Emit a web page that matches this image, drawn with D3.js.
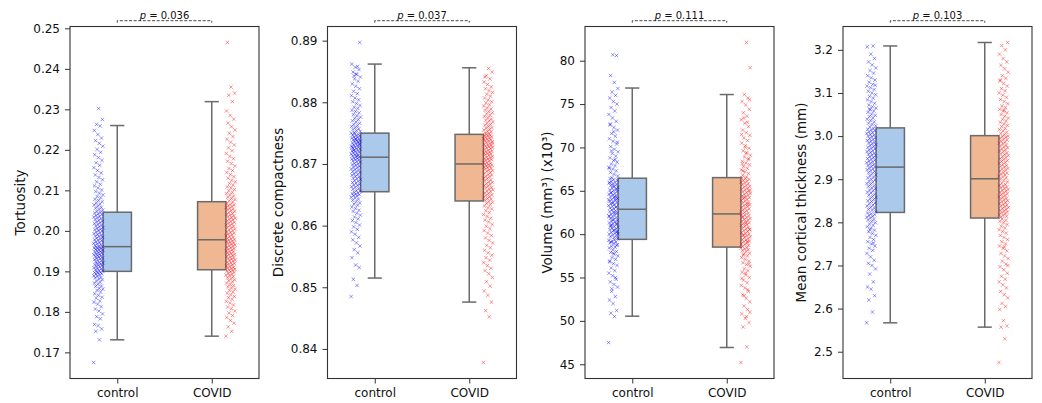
<!DOCTYPE html>
<html>
<head>
<meta charset="utf-8">
<script src="https://cdn.jsdelivr.net/npm/d3@7"></script>
<style>
  html, body { margin: 0; padding: 0; background: #fff; }
  svg { display: block; font-family: "DejaVu Sans", sans-serif; }
</style>
</head>
<body>
<svg id="chart" width="1042" height="403"></svg>
<script>
// ---------------------------------------------------------------------------
// Data
// ---------------------------------------------------------------------------
const categories = ["control", "COVID"];

const yLabels = [
  "Tortuosity",
  "Discrete compactness",
  "Volume (mm\u00b3) (x10\u00b3)",
  "Mean cortical thickness (mm)"
];

const pValues = ["0.036", "0.037", "0.111", "0.103"];

const yTicks = [
  [0.17, 0.18, 0.19, 0.20, 0.21, 0.22, 0.23, 0.24, 0.25],
  [0.84, 0.85, 0.86, 0.87, 0.88, 0.89],
  [45, 50, 55, 60, 65, 70, 75, 80],
  [2.5, 2.6, 2.7, 2.8, 2.9, 3.0, 3.1, 3.2]
];
const yTickFormats = [".2f", ".2f", "d", ".1f"];

// Box statistics: [lower whisker, Q1, median, Q3, upper whisker]
const boxControl = [
  [0.1731, 0.1900, 0.1961, 0.2046, 0.2260],
  [0.8515, 0.8655, 0.8711, 0.8750, 0.8862],
  [50.54, 59.40, 62.87, 66.45, 76.85],
  [2.567, 2.823, 2.928, 3.019, 3.209]
];
const boxCovid = [
  [0.1740, 0.1904, 0.1978, 0.2072, 0.2319],
  [0.8476, 0.8640, 0.8700, 0.8748, 0.8856],
  [46.93, 58.51, 62.33, 66.52, 76.10],
  [2.557, 2.810, 2.901, 3.001, 3.217]
];

// Individual subject values
const tortuosityControl = [
  0.1675, 0.1731, 0.1752, 0.1758, 0.1766, 0.1769, 0.1783, 0.1788, 0.1795, 0.1802,
  0.1807, 0.1813, 0.1819, 0.1824, 0.1827, 0.1834, 0.1836, 0.1841, 0.1845, 0.1849,
  0.1853, 0.1856, 0.1858, 0.1863, 0.1864, 0.1868, 0.1871, 0.1873, 0.1876, 0.1879,
  0.1881, 0.1884, 0.1885, 0.1888, 0.1889, 0.1891, 0.1893, 0.1894, 0.1896, 0.1897,
  0.1898, 0.1899,
  0.1901, 0.1902, 0.1904, 0.1906, 0.1907, 0.1909, 0.1911, 0.1912, 0.1914, 0.1915,
  0.1917, 0.1918, 0.1919, 0.1921, 0.1922, 0.1924, 0.1926, 0.1927, 0.1929, 0.1931,
  0.1932, 0.1933, 0.1935, 0.1937, 0.1938, 0.1939, 0.1941, 0.1942, 0.1944, 0.1945,
  0.1946, 0.1948, 0.1949, 0.1951, 0.1952, 0.1953, 0.1954, 0.1956, 0.1957, 0.1958,
  0.1959, 0.1960, 0.1961,
  0.1962, 0.1964, 0.1966, 0.1968, 0.1969, 0.1971, 0.1973, 0.1975, 0.1977, 0.1978,
  0.1980, 0.1982, 0.1984, 0.1986, 0.1987, 0.1989, 0.1991, 0.1993, 0.1995, 0.1997,
  0.1999, 0.2001, 0.2003, 0.2004, 0.2006, 0.2008, 0.2010, 0.2012, 0.2014, 0.2016,
  0.2018, 0.2020, 0.2022, 0.2024, 0.2026, 0.2028, 0.2030, 0.2032, 0.2034, 0.2036,
  0.2038, 0.2040, 0.2042, 0.2044, 0.2046,
  0.2048, 0.2051, 0.2053, 0.2056, 0.2058, 0.2061, 0.2064, 0.2066, 0.2069, 0.2072,
  0.2075, 0.2078, 0.2082, 0.2085, 0.2089, 0.2093, 0.2097, 0.2101, 0.2106, 0.2111,
  0.2115, 0.2121, 0.2126, 0.2132, 0.2138, 0.2143, 0.2149, 0.2156, 0.2162, 0.2168,
  0.2174, 0.2181, 0.2188, 0.2194, 0.2201, 0.2209, 0.2216, 0.2223, 0.2229, 0.2238,
  0.2248, 0.2259, 0.2263, 0.2275, 0.2302
];
const tortuosityCovid = [
  0.1740, 0.1752, 0.1763, 0.1772, 0.1779, 0.1786, 0.1791, 0.1797, 0.1802, 0.1808,
  0.1812, 0.1817, 0.1822, 0.1826, 0.1831, 0.1835, 0.1838, 0.1842, 0.1846, 0.1849,
  0.1853, 0.1856, 0.1859, 0.1862, 0.1865, 0.1868, 0.1871, 0.1874, 0.1877, 0.1879,
  0.1882, 0.1884, 0.1887, 0.1889, 0.1891, 0.1893, 0.1895, 0.1897, 0.1899, 0.1901,
  0.1902, 0.1903,
  0.1905, 0.1907, 0.1909, 0.1910, 0.1912, 0.1914, 0.1916, 0.1918, 0.1919, 0.1921,
  0.1923, 0.1925, 0.1927, 0.1928, 0.1930, 0.1932, 0.1934, 0.1935, 0.1937, 0.1939,
  0.1941, 0.1942, 0.1944, 0.1946, 0.1948, 0.1949, 0.1951, 0.1953, 0.1955, 0.1956,
  0.1958, 0.1960, 0.1962, 0.1963, 0.1965, 0.1967, 0.1969, 0.1970, 0.1972, 0.1974,
  0.1975, 0.1977, 0.1978,
  0.1980, 0.1982, 0.1984, 0.1986, 0.1988, 0.1990, 0.1992, 0.1994, 0.1996, 0.1998,
  0.2000, 0.2002, 0.2004, 0.2007, 0.2009, 0.2011, 0.2013, 0.2015, 0.2017, 0.2019,
  0.2021, 0.2023, 0.2025, 0.2027, 0.2029, 0.2031, 0.2033, 0.2035, 0.2037, 0.2039,
  0.2041, 0.2043, 0.2045, 0.2048, 0.2050, 0.2052, 0.2054, 0.2056, 0.2058, 0.2060,
  0.2062, 0.2064, 0.2066, 0.2068, 0.2071,
  0.2074, 0.2077, 0.2080, 0.2083, 0.2086, 0.2089, 0.2092, 0.2095, 0.2099, 0.2102,
  0.2106, 0.2109, 0.2113, 0.2117, 0.2121, 0.2125, 0.2130, 0.2134, 0.2139, 0.2144,
  0.2149, 0.2154, 0.2160, 0.2166, 0.2172, 0.2178, 0.2184, 0.2191, 0.2198, 0.2205,
  0.2212, 0.2219, 0.2226, 0.2233, 0.2241, 0.2249, 0.2257, 0.2266, 0.2276, 0.2285,
  0.2296, 0.2319, 0.2335, 0.2340, 0.2355, 0.2465
];

const compactnessControl = [
  0.8485, 0.8503, 0.8513, 0.8532, 0.8536, 0.8548, 0.8556, 0.8561, 0.8567, 0.8572,
  0.8577, 0.8581, 0.8586, 0.8590, 0.8594, 0.8598, 0.8601, 0.8605, 0.8608, 0.8611,
  0.8614, 0.8617, 0.8620, 0.8623, 0.8625, 0.8628, 0.8630, 0.8633, 0.8635, 0.8637,
  0.8639, 0.8641, 0.8643, 0.8645, 0.8646, 0.8648, 0.8649, 0.8650, 0.8651, 0.8652,
  0.8653, 0.8654,
  0.8656, 0.8657, 0.8659, 0.8660, 0.8662, 0.8663, 0.8665, 0.8666, 0.8667, 0.8669,
  0.8670, 0.8672, 0.8673, 0.8675, 0.8676, 0.8677, 0.8679, 0.8680, 0.8682, 0.8683,
  0.8684, 0.8686, 0.8687, 0.8688, 0.8690, 0.8691, 0.8692, 0.8694, 0.8695, 0.8696,
  0.8698, 0.8699, 0.8700, 0.8701, 0.8703, 0.8704, 0.8705, 0.8706, 0.8707, 0.8708,
  0.8709, 0.8710, 0.8711,
  0.8712, 0.8713, 0.8714, 0.8715, 0.8716, 0.8717, 0.8718, 0.8719, 0.8720, 0.8721,
  0.8722, 0.8723, 0.8724, 0.8725, 0.8726, 0.8727, 0.8728, 0.8729, 0.8730, 0.8731,
  0.8732, 0.8733, 0.8734, 0.8735, 0.8736, 0.8737, 0.8738, 0.8739, 0.8740, 0.8741,
  0.8742, 0.8743, 0.8744, 0.8745, 0.8746, 0.8747, 0.8748, 0.8749, 0.8750, 0.8713,
  0.8722, 0.8731, 0.8740, 0.8727, 0.8736,
  0.8751, 0.8753, 0.8754, 0.8756, 0.8757, 0.8759, 0.8761, 0.8762, 0.8764, 0.8766,
  0.8768, 0.8770, 0.8772, 0.8774, 0.8776, 0.8778, 0.8780, 0.8783, 0.8785, 0.8787,
  0.8790, 0.8792, 0.8795, 0.8798, 0.8801, 0.8804, 0.8807, 0.8811, 0.8814, 0.8818,
  0.8822, 0.8826, 0.8830, 0.8834, 0.8838, 0.8841, 0.8845, 0.8849, 0.8853, 0.8857,
  0.8862, 0.8858, 0.8843, 0.8897, 0.8846
];
const compactnessCovid = [
  0.8378, 0.8452, 0.8462, 0.8476, 0.8487, 0.8494, 0.8502, 0.8509, 0.8516, 0.8522,
  0.8527, 0.8531, 0.8535, 0.8540, 0.8544, 0.8548, 0.8552, 0.8556, 0.8560, 0.8564,
  0.8568, 0.8572, 0.8576, 0.8580, 0.8584, 0.8588, 0.8592, 0.8595, 0.8599, 0.8602,
  0.8606, 0.8609, 0.8612, 0.8615, 0.8618, 0.8621, 0.8624, 0.8627, 0.8629, 0.8632,
  0.8634, 0.8636, 0.8638, 0.8639,
  0.8641, 0.8643, 0.8644, 0.8646, 0.8647, 0.8649, 0.8650, 0.8652, 0.8653, 0.8655,
  0.8656, 0.8658, 0.8659, 0.8661, 0.8662, 0.8664, 0.8665, 0.8667, 0.8668, 0.8670,
  0.8671, 0.8673, 0.8674, 0.8676, 0.8677, 0.8679, 0.8680, 0.8682, 0.8683, 0.8685,
  0.8686, 0.8688, 0.8689, 0.8690, 0.8692, 0.8693, 0.8694, 0.8695, 0.8696, 0.8697,
  0.8698, 0.8699, 0.8700,
  0.8701, 0.8702, 0.8703, 0.8705, 0.8706, 0.8707, 0.8708, 0.8709, 0.8710, 0.8711,
  0.8712, 0.8714, 0.8715, 0.8716, 0.8717, 0.8718, 0.8719, 0.8720, 0.8721, 0.8722,
  0.8724, 0.8725, 0.8726, 0.8727, 0.8728, 0.8729, 0.8730, 0.8731, 0.8732, 0.8733,
  0.8735, 0.8736, 0.8737, 0.8738, 0.8739, 0.8740, 0.8741, 0.8742, 0.8743, 0.8744,
  0.8745, 0.8746, 0.8747, 0.8748, 0.8734,
  0.8749, 0.8750, 0.8752, 0.8753, 0.8755, 0.8756, 0.8758, 0.8759, 0.8761, 0.8763,
  0.8764, 0.8766, 0.8768, 0.8770, 0.8771, 0.8773, 0.8775, 0.8777, 0.8779, 0.8781,
  0.8783, 0.8785, 0.8787, 0.8789, 0.8791, 0.8794, 0.8796, 0.8799, 0.8801, 0.8804,
  0.8807, 0.8810, 0.8813, 0.8816, 0.8819, 0.8822, 0.8825, 0.8829, 0.8833, 0.8838,
  0.8843, 0.8849, 0.8855, 0.8841
];

const volumeControl = [
  47.5, 50.5, 50.9, 51.2, 52.0, 52.4, 52.8, 53.4, 53.9, 54.2,
  54.5, 54.8, 55.2, 55.5, 55.8, 56.1, 56.4, 56.6, 56.9, 57.1,
  57.3, 57.5, 57.7, 57.9, 58.0, 58.2, 58.4, 58.5, 58.6, 58.8,
  58.9, 59.0, 59.1, 59.2, 59.3, 59.35, 59.1, 58.7, 57.8, 56.8,
  55.0, 53.7,
  59.5, 59.6, 59.7, 59.8, 59.9, 60.0, 60.1, 60.2, 60.3, 60.4,
  60.5, 60.6, 60.7, 60.8, 60.9, 61.0, 61.1, 61.2, 61.3, 61.4,
  61.5, 61.6, 61.7, 61.8, 61.9, 62.0, 62.1, 62.2, 62.3, 62.4,
  62.5, 62.6, 62.7, 62.8, 60.05, 60.45, 60.85, 61.25, 61.65, 62.05,
  62.45, 61.05, 60.25,
  62.9, 63.0, 63.1, 63.2, 63.3, 63.4, 63.5, 63.6, 63.7, 63.8,
  63.9, 64.0, 64.1, 64.2, 64.3, 64.4, 64.5, 64.6, 64.7, 64.8,
  64.9, 65.0, 65.1, 65.2, 65.3, 65.4, 65.5, 65.6, 65.7, 65.8,
  65.9, 66.0, 66.1, 66.2, 66.3, 66.4, 63.15, 63.55, 63.95, 64.35,
  64.75, 65.15, 65.55, 65.95, 64.05,
  66.5, 66.7, 66.9, 67.1, 67.3, 67.5, 67.7, 67.9, 68.1, 68.3,
  68.5, 68.8, 69.0, 69.3, 69.5, 69.8, 70.1, 70.4, 70.7, 71.0,
  71.3, 71.6, 72.0, 72.3, 72.7, 73.0, 73.4, 73.8, 74.2, 74.6,
  75.0, 75.3, 75.7, 76.0, 76.4, 76.8, 77.5, 78.3, 80.6, 80.7,
  67.6, 68.6, 69.6, 70.6, 71.8, 72.6
];
const volumeCovid = [
  45.2, 47.0, 49.3, 49.8, 50.3, 50.8, 51.3, 51.7, 52.2, 52.6,
  53.0, 53.4, 53.8, 54.1, 54.4, 54.7, 55.0, 55.3, 55.6, 55.8,
  56.0, 56.3, 56.5, 56.7, 56.9, 57.1, 57.3, 57.5, 57.7, 57.8,
  58.0, 58.1, 58.2, 58.3, 58.4, 58.45, 57.6, 56.6, 55.5, 54.9,
  53.6, 52.9, 51.0, 50.5,
  58.6, 58.7, 58.8, 58.9, 59.0, 59.1, 59.2, 59.3, 59.4, 59.5,
  59.6, 59.7, 59.8, 59.9, 60.0, 60.1, 60.2, 60.3, 60.4, 60.5,
  60.6, 60.7, 60.8, 60.9, 61.0, 61.1, 61.2, 61.3, 61.4, 61.5,
  61.6, 61.7, 61.8, 61.9, 62.0, 62.1, 62.2, 62.3, 59.15, 59.85,
  60.55, 61.25, 61.95,
  62.4, 62.5, 62.6, 62.7, 62.8, 62.9, 63.0, 63.1, 63.2, 63.3,
  63.4, 63.5, 63.6, 63.7, 63.8, 63.9, 64.0, 64.1, 64.2, 64.3,
  64.4, 64.5, 64.6, 64.7, 64.8, 64.9, 65.0, 65.1, 65.2, 65.3,
  65.4, 65.5, 65.6, 65.7, 65.8, 65.9, 66.0, 66.1, 66.2, 66.3,
  66.4, 66.5, 63.45, 64.25, 65.05,
  66.6, 66.8, 67.0, 67.2, 67.4, 67.6, 67.8, 68.0, 68.2, 68.4,
  68.6, 68.9, 69.1, 69.4, 69.6, 69.9, 70.2, 70.5, 70.8, 71.1,
  71.4, 71.7, 72.0, 72.4, 72.8, 73.2, 73.6, 74.0, 74.4, 74.9,
  75.3, 75.7, 76.1, 79.2, 82.1, 67.3, 68.7, 70.0, 71.5, 72.9,
  73.4, 75.5, 69.3, 68.1
];

const thicknessControl = [
  2.567, 2.592, 2.620, 2.630, 2.645, 2.650, 2.662, 2.680, 2.692, 2.700,
  2.705, 2.712, 2.720, 2.728, 2.735, 2.740, 2.745, 2.750, 2.755, 2.760,
  2.765, 2.770, 2.774, 2.778, 2.782, 2.786, 2.790, 2.793, 2.796, 2.799,
  2.802, 2.805, 2.807, 2.810, 2.812, 2.814, 2.816, 2.818, 2.820, 2.822,
  2.752, 2.783,
  2.825, 2.828, 2.830, 2.833, 2.835, 2.838, 2.840, 2.843, 2.845, 2.848,
  2.850, 2.853, 2.855, 2.858, 2.860, 2.863, 2.865, 2.868, 2.870, 2.873,
  2.875, 2.878, 2.880, 2.883, 2.885, 2.888, 2.890, 2.893, 2.895, 2.898,
  2.900, 2.903, 2.905, 2.908, 2.910, 2.913, 2.915, 2.918, 2.920, 2.922,
  2.924, 2.926, 2.928,
  2.930, 2.932, 2.934, 2.936, 2.938, 2.940, 2.942, 2.944, 2.946, 2.948,
  2.950, 2.952, 2.954, 2.956, 2.958, 2.960, 2.962, 2.964, 2.966, 2.968,
  2.970, 2.972, 2.974, 2.976, 2.978, 2.980, 2.982, 2.984, 2.986, 2.988,
  2.990, 2.992, 2.994, 2.996, 2.998, 3.000, 3.002, 3.004, 3.006, 3.008,
  3.010, 3.012, 3.014, 3.016, 3.018,
  3.021, 3.024, 3.027, 3.030, 3.033, 3.036, 3.039, 3.042, 3.045, 3.048,
  3.051, 3.055, 3.058, 3.061, 3.065, 3.068, 3.072, 3.076, 3.080, 3.084,
  3.088, 3.092, 3.096, 3.100, 3.104, 3.108, 3.112, 3.116, 3.120, 3.125,
  3.130, 3.135, 3.140, 3.146, 3.152, 3.158, 3.165, 3.172, 3.180, 3.190,
  3.207, 3.209, 3.063, 3.118
];
const thicknessCovid = [
  2.475, 2.530, 2.557, 2.560, 2.572, 2.598, 2.605, 2.612, 2.625, 2.632,
  2.640, 2.648, 2.655, 2.662, 2.668, 2.675, 2.682, 2.690, 2.697, 2.703,
  2.710, 2.716, 2.722, 2.728, 2.734, 2.740, 2.745, 2.750, 2.755, 2.760,
  2.765, 2.770, 2.775, 2.779, 2.783, 2.787, 2.791, 2.795, 2.799, 2.802,
  2.805, 2.808, 2.700, 2.743,
  2.812, 2.814, 2.816, 2.818, 2.820, 2.822, 2.824, 2.826, 2.828, 2.830,
  2.832, 2.834, 2.836, 2.838, 2.840, 2.842, 2.844, 2.846, 2.848, 2.850,
  2.852, 2.854, 2.856, 2.858, 2.860, 2.862, 2.864, 2.866, 2.868, 2.870,
  2.872, 2.874, 2.876, 2.878, 2.880, 2.882, 2.884, 2.886, 2.888, 2.891,
  2.894, 2.897, 2.900,
  2.903, 2.905, 2.907, 2.910, 2.912, 2.914, 2.916, 2.919, 2.921, 2.923,
  2.925, 2.928, 2.930, 2.932, 2.934, 2.937, 2.939, 2.941, 2.943, 2.946,
  2.948, 2.950, 2.952, 2.955, 2.957, 2.959, 2.961, 2.964, 2.966, 2.968,
  2.970, 2.973, 2.975, 2.977, 2.979, 2.982, 2.984, 2.986, 2.988, 2.991,
  2.993, 2.995, 2.997, 2.999, 3.000,
  3.003, 3.006, 3.009, 3.012, 3.015, 3.018, 3.022, 3.025, 3.028, 3.032,
  3.035, 3.039, 3.042, 3.046, 3.050, 3.054, 3.058, 3.062, 3.066, 3.070,
  3.075, 3.080, 3.085, 3.090, 3.095, 3.100, 3.105, 3.110, 3.116, 3.122,
  3.128, 3.134, 3.140, 3.148, 3.156, 3.164, 3.172, 3.180, 3.190, 3.200,
  3.210, 3.217, 3.060, 3.130
];

const pointsControl = [tortuosityControl, compactnessControl, volumeControl, thicknessControl];
const pointsCovid = [tortuosityCovid, compactnessCovid, volumeCovid, thicknessCovid];

// ---------------------------------------------------------------------------
// Layout and style
// ---------------------------------------------------------------------------
const axLefts = [70, 327.5, 585, 843];
const axWidth = 189;
const axTop = 26.5;
const axBottom = 378.5;

const boxFill = ["#abc9ea", "#efb792"];
const pointColor = ["#0000ff", "#ff0000"];
const lineGray = "#6a6a6a";
const textColor = "#111";
const boxHalf = 0.15;      // box half-width in category units
const capHalf = 0.075;     // whisker cap half-width
const stripCenter = [-0.2, 0.2];  // strip offset from each category
const stripHalf = 0.05;    // half-width of the jitter band

const svg = d3.select("#chart");
const markerPath = "M-1.7,-1.7L1.7,1.7M-1.7,1.7L1.7,-1.7";

for (let k = 0; k < 4; k++) {
  const g = svg.append("g");
  const left = axLefts[k];

  const x = d3.scaleLinear().domain([-0.5, 1.5]).range([left, left + axWidth]);

  // y limits: data extent padded by 5% on each side
  const all = pointsControl[k].concat(pointsCovid[k]);
  const [lo, hi] = d3.extent(all);
  const pad = (hi - lo) * 0.05;
  const y = d3.scaleLinear().domain([lo - pad, hi + pad]).range([axBottom, axTop]);

  const groups = [
    { stats: boxControl[k], pts: pointsControl[k] },
    { stats: boxCovid[k], pts: pointsCovid[k] }
  ];

  groups.forEach((grp, i) => {
    const [wl, q1, med, q3, wh] = grp.stats;
    const bg = g.append("g");
    // whiskers
    bg.append("line").attr("x1", x(i)).attr("x2", x(i))
      .attr("y1", y(q3)).attr("y2", y(wh))
      .attr("stroke", lineGray).attr("stroke-width", 1.5);
    bg.append("line").attr("x1", x(i)).attr("x2", x(i))
      .attr("y1", y(q1)).attr("y2", y(wl))
      .attr("stroke", lineGray).attr("stroke-width", 1.5);
    // caps
    [wl, wh].forEach(v => {
      bg.append("line").attr("x1", x(i - capHalf)).attr("x2", x(i + capHalf))
        .attr("y1", y(v)).attr("y2", y(v))
        .attr("stroke", lineGray).attr("stroke-width", 1.5);
    });
    // box
    bg.append("rect")
      .attr("x", x(i - boxHalf)).attr("width", x(i + boxHalf) - x(i - boxHalf))
      .attr("y", y(q3)).attr("height", y(q1) - y(q3))
      .attr("fill", boxFill[i]).attr("stroke", lineGray).attr("stroke-width", 1.5);
    // median
    bg.append("line").attr("x1", x(i - boxHalf)).attr("x2", x(i + boxHalf))
      .attr("y1", y(med)).attr("y2", y(med))
      .attr("stroke", lineGray).attr("stroke-width", 1.5);
  });

  // jittered strips (deterministic low-discrepancy spread across the band)
  groups.forEach((grp, i) => {
    g.append("g").selectAll("path")
      .data(grp.pts)
      .join("path")
      .attr("d", markerPath)
      .attr("transform", (d, j) => {
        const u = (j * 0.6180339887) % 1;
        const xv = i + stripCenter[i] + (u - 0.5) * 2 * stripHalf;
        return `translate(${x(xv)},${y(d)})`;
      })
      .attr("fill", "none")
      .attr("stroke", pointColor[i])
      .attr("stroke-opacity", 0.42)
      .attr("stroke-width", 1);
  });

  // axes
  const yAxis = g.append("g")
    .attr("transform", `translate(${left},0)`)
    .call(d3.axisLeft(y).tickValues(yTicks[k]).tickFormat(d3.format(yTickFormats[k]))
      .tickSize(5).tickPadding(5));
  const xAxis = g.append("g")
    .attr("transform", `translate(0,${axBottom})`)
    .call(d3.axisBottom(x).tickValues([0, 1]).tickFormat(i => categories[i])
      .tickSize(5).tickPadding(5));
  [yAxis, xAxis].forEach(ax => {
    ax.select(".domain").remove();
    ax.selectAll(".tick line").attr("stroke", "#333").attr("stroke-width", 1);
    ax.selectAll(".tick text").attr("fill", textColor)
      .style("font-size", "12px").style("font-family", "DejaVu Sans, sans-serif");
  });

  // frame
  g.append("rect")
    .attr("x", left).attr("y", axTop)
    .attr("width", axWidth).attr("height", axBottom - axTop)
    .attr("fill", "none").attr("stroke", "#333").attr("stroke-width", 1.1);

  // y label
  const bb = yAxis.node().getBBox();
  g.append("text")
    .attr("transform", `translate(${left + bb.x - 13},${(axTop + axBottom) / 2}) rotate(-90)`)
    .attr("text-anchor", "middle")
    .attr("dominant-baseline", "central")
    .attr("fill", textColor)
    .style("font-size", "13.5px")
    .text(yLabels[k]);

  // significance bracket
  const yb = 20.7;
  g.append("path")
    .attr("d", `M${x(0)},${yb + 2}L${x(0)},${yb}L${x(1)},${yb}L${x(1)},${yb + 2}`)
    .attr("fill", "none").attr("stroke", "#333").attr("stroke-width", 0.9)
    .attr("stroke-dasharray", "3,1.6");
  const pt = g.append("text")
    .attr("x", (x(0) + x(1)) / 2).attr("y", 18.6)
    .attr("text-anchor", "middle")
    .attr("fill", textColor)
    .style("font-size", "10px");
  pt.append("tspan").style("font-style", "italic").text("p");
  pt.append("tspan").text(" = " + pValues[k]);
}
</script>
</body>
</html>
